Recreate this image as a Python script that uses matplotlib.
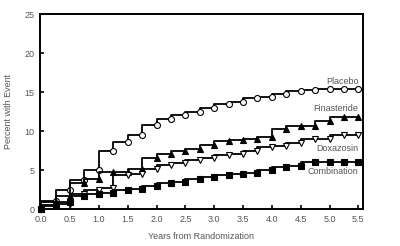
import matplotlib
matplotlib.use("Agg")
import matplotlib.pyplot as plt

years = [0.0, 0.25, 0.5, 0.75, 1.0, 1.25, 1.5, 1.75, 2.0, 2.25, 2.5, 2.75,
         3.0, 3.25, 3.5, 3.75, 4.0, 4.25, 4.5, 4.75, 5.0, 5.25, 5.5]

placebo = [0, 1.1, 2.4, 3.7, 5.05, 7.5, 8.6, 9.5, 10.8, 11.5, 12.0, 12.4,
           12.9, 13.5, 13.7, 14.3, 14.4, 14.7, 15.1, 15.3, 15.4, 15.4, 15.4]
finasteride = [0, 0.9, 1.7, 3.3, 3.8, 4.7, 4.8, 5.2, 6.6, 7.1, 7.45, 7.75,
               8.25, 8.7, 8.9, 9.0, 9.2, 10.3, 10.6, 10.6, 11.3, 11.8, 11.85]
doxazosin = [0, 0.45, 0.6, 1.9, 2.4, 2.7, 4.4, 4.5, 5.1, 5.6, 5.9, 6.35,
             6.5, 6.9, 7.1, 7.5, 8.0, 8.1, 8.5, 9.0, 9.0, 9.5, 9.5]
combination = [0, 0.5, 0.9, 1.7, 1.9, 2.0, 2.4, 2.6, 2.9, 3.3, 3.5, 3.8,
               4.1, 4.4, 4.5, 4.6, 5.0, 5.35, 5.55, 6.1, 6.1, 6.1, 6.1]

labels = ["Placebo", "Finasteride", "Doxazosin", "Combination"]
label_pos = [(5.5, 16.4), (5.5, 12.9), (5.5, 7.75), (5.5, 4.85)]

plt.rcParams["font.family"] = ["Liberation Sans", "DejaVu Sans"]
grey = "#555555"

fig = plt.figure(figsize=(4, 2.46), dpi=100)
ax = fig.add_axes([0.1, 0.15, 0.8075, 0.793])

styles = [("o", "white"), ("^", "black"), ("v", "white"), ("s", "black")]
for ys, (m, fc) in zip([placebo, finasteride, doxazosin, combination], styles):
    ax.plot(years, ys, drawstyle="steps-pre", color="black", lw=1.3,
            marker=m, markersize=4.3, markerfacecolor=fc, markeredgecolor="black",
            markeredgewidth=0.8, clip_on=False, zorder=3)

for name, (tx, ty) in zip(labels, label_pos):
    ax.text(tx, ty, name, ha="right", va="center", fontsize=6.5, color=grey)

ax.set_xlim(-0.02, 5.58)
ax.set_ylim(0, 25)
ax.set_xticks(years[::2])
ax.set_xticklabels([f"{v:.1f}" for v in years[::2]])
ax.set_yticks([0, 5, 10, 15, 20, 25])
ax.tick_params(direction="in", length=3, width=1.2, labelsize=6.5,
               labelcolor=grey, pad=4)
for s in ax.spines.values():
    s.set_linewidth(1.4)

ax.set_xlabel("Years from Randomization", fontsize=6.5, color=grey, labelpad=6)
ax.set_ylabel("Percent with Event", fontsize=6.5, color=grey, labelpad=8)

fig.savefig("out.png", dpi=100)
